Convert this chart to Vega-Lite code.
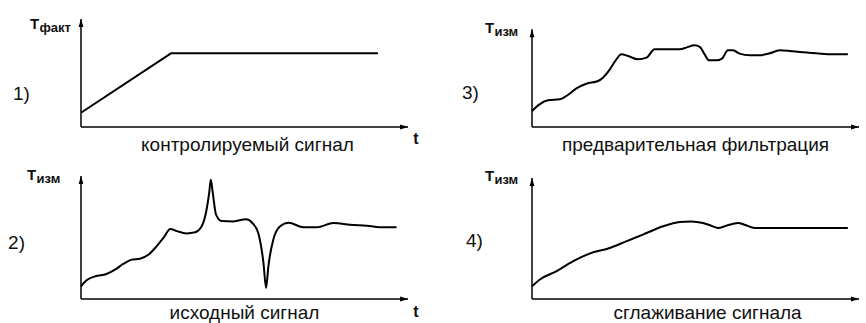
{
  "$schema": "https://vega.github.io/schema/vega-lite/v6.json",
  "padding": {"left": 8, "top": 17, "right": 0, "bottom": 0},
  "config": {"view": {"stroke": null}, "axis": {"disable": true}, "font": "Liberation Sans", "text": {"font": "Liberation Sans", "color": "#111111"}},
  "datasets": {
    "p1": [{"t": 0, "v": 13.2}, {"t": 27.5, "v": 68.2}, {"t": 90.8, "v": 68.2}],
    "p3": [
      {"t": 0, "v": 14.8}, {"t": 2.3, "v": 21.0}, {"t": 4.9, "v": 24.7}, {"t": 8.5, "v": 25.6}, {"t": 10.5, "v": 28.7},
      {"t": 13.6, "v": 35.8}, {"t": 16.6, "v": 40.1}, {"t": 20.2, "v": 42.6}, {"t": 21.7, "v": 45.7}, {"t": 23.8, "v": 53.4},
      {"t": 25.8, "v": 62.7}, {"t": 27.3, "v": 67.3}, {"t": 29.4, "v": 65.7}, {"t": 32.4, "v": 62.7}, {"t": 35.0, "v": 64.2},
      {"t": 37.5, "v": 71.9}, {"t": 41.1, "v": 71.9}, {"t": 45.2, "v": 71.9}, {"t": 47.2, "v": 73.5}, {"t": 49.7, "v": 75.6},
      {"t": 51.3, "v": 74.1}, {"t": 52.8, "v": 67.3}, {"t": 54.1, "v": 61.7}, {"t": 56.4, "v": 61.7}, {"t": 58.2, "v": 63.6},
      {"t": 59.9, "v": 71.0}, {"t": 61.5, "v": 71.0}, {"t": 63.5, "v": 67.9}, {"t": 66.6, "v": 66.4}, {"t": 69.6, "v": 66.4},
      {"t": 72.7, "v": 68.2}, {"t": 75.7, "v": 71.0}, {"t": 78.8, "v": 70.4}, {"t": 81.9, "v": 69.4}, {"t": 87.0, "v": 68.2},
      {"t": 92.0, "v": 67.3}, {"t": 96.6, "v": 67.3}
    ],
    "p2": [
      {"t": 0, "v": 10.3}, {"t": 1.7, "v": 15.2}, {"t": 4.3, "v": 18.4}, {"t": 7.8, "v": 20.3}, {"t": 10.4, "v": 23.8},
      {"t": 12.9, "v": 28.5}, {"t": 15.5, "v": 32.0}, {"t": 18.0, "v": 32.8}, {"t": 20.6, "v": 36.0}, {"t": 23.1, "v": 42.8},
      {"t": 25.2, "v": 49.6}, {"t": 27.3, "v": 57.0}, {"t": 29.3, "v": 55.2}, {"t": 32.3, "v": 53.3}, {"t": 34.9, "v": 54.2},
      {"t": 36.9, "v": 59.1}, {"t": 38.4, "v": 72.6}, {"t": 39.2, "v": 86.2}, {"t": 39.7, "v": 97.0}, {"t": 40.3, "v": 86.2},
      {"t": 41.3, "v": 68.6}, {"t": 43.0, "v": 63.4}, {"t": 46.6, "v": 63.1}, {"t": 50.5, "v": 64.8}, {"t": 52.4, "v": 61.8},
      {"t": 54.2, "v": 53.7}, {"t": 55.8, "v": 29.3}, {"t": 56.6, "v": 9.0}, {"t": 57.3, "v": 26.6}, {"t": 58.8, "v": 48.2},
      {"t": 60.9, "v": 59.1}, {"t": 63.5, "v": 62.0}, {"t": 68.0, "v": 58.3}, {"t": 72.1, "v": 58.3}, {"t": 77.2, "v": 61.8},
      {"t": 82.3, "v": 60.4}, {"t": 87.4, "v": 59.6}, {"t": 92.5, "v": 58.3}, {"t": 96.5, "v": 58.3}
    ],
    "p4": [
      {"t": 0, "v": 10.3}, {"t": 2.3, "v": 15.7}, {"t": 7.4, "v": 22.5}, {"t": 12.5, "v": 30.6}, {"t": 17.6, "v": 36.9},
      {"t": 23.8, "v": 41.5}, {"t": 28.8, "v": 46.9}, {"t": 33.9, "v": 52.3}, {"t": 40.1, "v": 59.1}, {"t": 45.2, "v": 62.6},
      {"t": 48.7, "v": 63.1}, {"t": 52.3, "v": 61.8}, {"t": 54.8, "v": 59.6}, {"t": 56.9, "v": 57.7}, {"t": 59.4, "v": 59.6},
      {"t": 63.0, "v": 61.8}, {"t": 65.0, "v": 60.4}, {"t": 68.1, "v": 57.7}, {"t": 71.7, "v": 57.7}, {"t": 81.9, "v": 57.7},
      {"t": 96.6, "v": 57.7}
    ]
  },
  "columns": 2,
  "spacing": {"row": 49, "column": 124},
  "bounds": "flush",
  "concat": [
    {
      "width": 327, "height": 108,
      "layer": [
        {"data": {"name": "p1"}, "mark": {"type": "line", "color": "black", "strokeWidth": 2, "interpolate": "linear", "strokeJoin": "round"},
         "encoding": {"x": {"field": "t", "type": "quantitative", "scale": {"domain": [0, 100]}, "axis": null}, "y": {"field": "v", "type": "quantitative", "scale": {"domain": [0, 100]}, "axis": null}}},
        {"data": {"values": [{}]}, "mark": {"type": "rule", "color": "black", "strokeWidth": 1.5},
         "encoding": {"x": {"datum": 0, "type": "quantitative"}, "y": {"datum": 0, "type": "quantitative"}, "y2": {"datum": 100}}},
        {"data": {"values": [{}]}, "mark": {"type": "rule", "color": "black", "strokeWidth": 1.5},
         "encoding": {"x": {"datum": 0, "type": "quantitative"}, "x2": {"datum": 100}, "y": {"datum": 0, "type": "quantitative"}}},
        {"data": {"values": [{}]}, "mark": {"type": "point", "shape": "M0,0L0.6,2L-0.6,2Z", "filled": true, "color": "black", "opacity": 1, "size": 64},
         "encoding": {"x": {"datum": 0, "type": "quantitative"}, "y": {"datum": 100, "type": "quantitative"}}},
        {"data": {"values": [{}]}, "mark": {"type": "point", "shape": "M0,0L-2,-0.6L-2,0.6Z", "filled": true, "color": "black", "opacity": 1, "size": 64},
         "encoding": {"x": {"datum": 100, "type": "quantitative"}, "y": {"datum": 0, "type": "quantitative"}}},
        {"data": {"values": [{}]}, "mark": {"type": "text", "text": "T", "fontSize": 15, "fontWeight": "bold", "align": "left", "baseline": "alphabetic"},
         "encoding": {"x": {"datum": -15.6, "type": "quantitative"}, "y": {"datum": 90.7, "type": "quantitative"}}},
        {"data": {"values": [{}]}, "mark": {"type": "text", "text": "факт", "fontSize": 13, "fontWeight": "bold", "align": "left", "baseline": "alphabetic"},
         "encoding": {"x": {"datum": -12.7, "type": "quantitative"}, "y": {"datum": 88, "type": "quantitative"}}},
        {"data": {"values": [{}]}, "mark": {"type": "text", "text": "1)", "fontSize": 19, "align": "left", "baseline": "alphabetic"},
         "encoding": {"x": {"datum": -20.8, "type": "quantitative"}, "y": {"datum": 25, "type": "quantitative"}}},
        {"data": {"values": [{}]}, "mark": {"type": "text", "text": "контролируемый сигнал", "fontSize": 19, "align": "center", "baseline": "alphabetic"},
         "encoding": {"x": {"datum": 50.9, "type": "quantitative"}, "y": {"datum": -22.2, "type": "quantitative"}}},
        {"data": {"values": [{}]}, "mark": {"type": "text", "text": "t", "fontSize": 16, "fontWeight": "bold", "align": "center", "baseline": "alphabetic"},
         "encoding": {"x": {"datum": 102.4, "type": "quantitative"}, "y": {"datum": -15.7, "type": "quantitative"}}}
      ]
    },
    {
      "width": 327, "height": 108,
      "layer": [
        {"data": {"name": "p3"}, "mark": {"type": "line", "color": "black", "strokeWidth": 2, "interpolate": "monotone", "strokeJoin": "round"},
         "encoding": {"x": {"field": "t", "type": "quantitative", "scale": {"domain": [0, 100]}, "axis": null}, "y": {"field": "v", "type": "quantitative", "scale": {"domain": [0, 100]}, "axis": null}}},
        {"data": {"values": [{}]}, "mark": {"type": "rule", "color": "black", "strokeWidth": 1.5},
         "encoding": {"x": {"datum": 0, "type": "quantitative"}, "y": {"datum": 0, "type": "quantitative"}, "y2": {"datum": 90.5}}},
        {"data": {"values": [{}]}, "mark": {"type": "rule", "color": "black", "strokeWidth": 1.5},
         "encoding": {"x": {"datum": 0, "type": "quantitative"}, "x2": {"datum": 100}, "y": {"datum": 0, "type": "quantitative"}}},
        {"data": {"values": [{}]}, "mark": {"type": "point", "shape": "M0,0L0.6,2L-0.6,2Z", "filled": true, "color": "black", "opacity": 1, "size": 64},
         "encoding": {"x": {"datum": 0, "type": "quantitative"}, "y": {"datum": 90.5, "type": "quantitative"}}},
        {"data": {"values": [{}]}, "mark": {"type": "point", "shape": "M0,0L-2,-0.6L-2,0.6Z", "filled": true, "color": "black", "opacity": 1, "size": 64},
         "encoding": {"x": {"datum": 100, "type": "quantitative"}, "y": {"datum": 0, "type": "quantitative"}}},
        {"data": {"values": [{}]}, "mark": {"type": "text", "text": "T", "fontSize": 15, "fontWeight": "bold", "align": "left", "baseline": "alphabetic"},
         "encoding": {"x": {"datum": -14.4, "type": "quantitative"}, "y": {"datum": 87, "type": "quantitative"}}},
        {"data": {"values": [{}]}, "mark": {"type": "text", "text": "изм", "fontSize": 13, "fontWeight": "bold", "align": "left", "baseline": "alphabetic"},
         "encoding": {"x": {"datum": -11.5, "type": "quantitative"}, "y": {"datum": 84.3, "type": "quantitative"}}},
        {"data": {"values": [{}]}, "mark": {"type": "text", "text": "3)", "fontSize": 19, "align": "left", "baseline": "alphabetic"},
         "encoding": {"x": {"datum": -21.4, "type": "quantitative"}, "y": {"datum": 25.9, "type": "quantitative"}}},
        {"data": {"values": [{}]}, "mark": {"type": "text", "text": "предварительная фильтрация", "fontSize": 19, "align": "center", "baseline": "alphabetic"},
         "encoding": {"x": {"datum": 50, "type": "quantitative"}, "y": {"datum": -22.2, "type": "quantitative"}}}
      ]
    },
    {
      "width": 327, "height": 123,
      "layer": [
        {"data": {"name": "p2"}, "mark": {"type": "line", "color": "black", "strokeWidth": 2, "interpolate": "monotone", "strokeJoin": "round"},
         "encoding": {"x": {"field": "t", "type": "quantitative", "scale": {"domain": [0, 100]}, "axis": null}, "y": {"field": "v", "type": "quantitative", "scale": {"domain": [0, 100]}, "axis": null}}},
        {"data": {"values": [{}]}, "mark": {"type": "rule", "color": "black", "strokeWidth": 1.5},
         "encoding": {"x": {"datum": 0, "type": "quantitative"}, "y": {"datum": 0, "type": "quantitative"}, "y2": {"datum": 100}}},
        {"data": {"values": [{}]}, "mark": {"type": "rule", "color": "black", "strokeWidth": 1.5},
         "encoding": {"x": {"datum": 0, "type": "quantitative"}, "x2": {"datum": 100}, "y": {"datum": 0, "type": "quantitative"}}},
        {"data": {"values": [{}]}, "mark": {"type": "point", "shape": "M0,0L0.6,2L-0.6,2Z", "filled": true, "color": "black", "opacity": 1, "size": 64},
         "encoding": {"x": {"datum": 0, "type": "quantitative"}, "y": {"datum": 100, "type": "quantitative"}}},
        {"data": {"values": [{}]}, "mark": {"type": "point", "shape": "M0,0L-2,-0.6L-2,0.6Z", "filled": true, "color": "black", "opacity": 1, "size": 64},
         "encoding": {"x": {"datum": 100, "type": "quantitative"}, "y": {"datum": 0, "type": "quantitative"}}},
        {"data": {"values": [{}]}, "mark": {"type": "text", "text": "T", "fontSize": 15, "fontWeight": "bold", "align": "left", "baseline": "alphabetic"},
         "encoding": {"x": {"datum": -16.5, "type": "quantitative"}, "y": {"datum": 96.7, "type": "quantitative"}}},
        {"data": {"values": [{}]}, "mark": {"type": "text", "text": "изм", "fontSize": 13, "fontWeight": "bold", "align": "left", "baseline": "alphabetic"},
         "encoding": {"x": {"datum": -13.6, "type": "quantitative"}, "y": {"datum": 94.3, "type": "quantitative"}}},
        {"data": {"values": [{}]}, "mark": {"type": "text", "text": "2)", "fontSize": 19, "align": "left", "baseline": "alphabetic"},
         "encoding": {"x": {"datum": -22.3, "type": "quantitative"}, "y": {"datum": 40.7, "type": "quantitative"}}},
        {"data": {"values": [{}]}, "mark": {"type": "text", "text": "исходный сигнал", "fontSize": 19, "align": "center", "baseline": "alphabetic"},
         "encoding": {"x": {"datum": 50, "type": "quantitative"}, "y": {"datum": -16.5, "type": "quantitative"}}},
        {"data": {"values": [{}]}, "mark": {"type": "text", "text": "t", "fontSize": 16, "fontWeight": "bold", "align": "center", "baseline": "alphabetic"},
         "encoding": {"x": {"datum": 102.4, "type": "quantitative"}, "y": {"datum": -14.6, "type": "quantitative"}}}
      ]
    },
    {
      "width": 327, "height": 123,
      "layer": [
        {"data": {"name": "p4"}, "mark": {"type": "line", "color": "black", "strokeWidth": 2, "interpolate": "monotone", "strokeJoin": "round"},
         "encoding": {"x": {"field": "t", "type": "quantitative", "scale": {"domain": [0, 100]}, "axis": null}, "y": {"field": "v", "type": "quantitative", "scale": {"domain": [0, 100]}, "axis": null}}},
        {"data": {"values": [{}]}, "mark": {"type": "rule", "color": "black", "strokeWidth": 1.5},
         "encoding": {"x": {"datum": 0, "type": "quantitative"}, "y": {"datum": 0, "type": "quantitative"}, "y2": {"datum": 98.4}}},
        {"data": {"values": [{}]}, "mark": {"type": "rule", "color": "black", "strokeWidth": 1.5},
         "encoding": {"x": {"datum": 0, "type": "quantitative"}, "x2": {"datum": 100}, "y": {"datum": 0, "type": "quantitative"}}},
        {"data": {"values": [{}]}, "mark": {"type": "point", "shape": "M0,0L0.6,2L-0.6,2Z", "filled": true, "color": "black", "opacity": 1, "size": 64},
         "encoding": {"x": {"datum": 0, "type": "quantitative"}, "y": {"datum": 98.4, "type": "quantitative"}}},
        {"data": {"values": [{}]}, "mark": {"type": "point", "shape": "M0,0L-2,-0.6L-2,0.6Z", "filled": true, "color": "black", "opacity": 1, "size": 64},
         "encoding": {"x": {"datum": 100, "type": "quantitative"}, "y": {"datum": 0, "type": "quantitative"}}},
        {"data": {"values": [{}]}, "mark": {"type": "text", "text": "T", "fontSize": 15, "fontWeight": "bold", "align": "left", "baseline": "alphabetic"},
         "encoding": {"x": {"datum": -14.4, "type": "quantitative"}, "y": {"datum": 96, "type": "quantitative"}}},
        {"data": {"values": [{}]}, "mark": {"type": "text", "text": "изм", "fontSize": 13, "fontWeight": "bold", "align": "left", "baseline": "alphabetic"},
         "encoding": {"x": {"datum": -11.5, "type": "quantitative"}, "y": {"datum": 93.5, "type": "quantitative"}}},
        {"data": {"values": [{}]}, "mark": {"type": "text", "text": "4)", "fontSize": 19, "align": "left", "baseline": "alphabetic"},
         "encoding": {"x": {"datum": -20.2, "type": "quantitative"}, "y": {"datum": 42.3, "type": "quantitative"}}},
        {"data": {"values": [{}]}, "mark": {"type": "text", "text": "сглаживание сигнала", "fontSize": 19, "align": "center", "baseline": "alphabetic"},
         "encoding": {"x": {"datum": 53.7, "type": "quantitative"}, "y": {"datum": -16.5, "type": "quantitative"}}}
      ]
    }
  ]
}
